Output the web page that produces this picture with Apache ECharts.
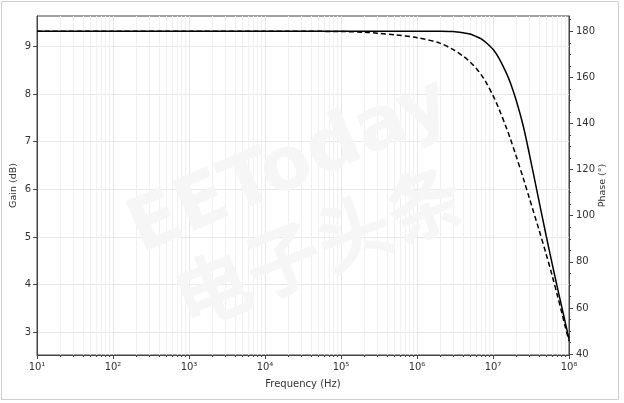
<!DOCTYPE html>
<html><head><meta charset="utf-8">
<script src="https://cdn.jsdelivr.net/npm/echarts@6/dist/echarts.min.js"></script>
<style>html,body{margin:0;padding:0;background:#fff}#c{width:624px;height:403px}</style>
</head><body><div id="c"></div>
<script>
// Data
const freqHz   = [10, 100, 1e3, 1e4, 1e5, 2e5, 3e5, 5e5, 1e6, 2e6, 3e6, 4e6, 5e6, 6e6, 7e6, 8e6, 1e7, 1.2e7, 1.5e7, 1.7e7, 2e7, 2.5e7, 3e7, 4e7, 5e7, 6e7, 7e7, 8e7, 9e7, 1e8];
const gainDb   = [9.32, 9.32, 9.32, 9.32, 9.32, 9.32, 9.32, 9.32, 9.32, 9.32, 9.315, 9.29, 9.26, 9.21, 9.16, 9.09, 8.94, 8.75, 8.44, 8.23, 7.89, 7.33, 6.75, 5.78, 5.03, 4.44, 3.95, 3.54, 3.18, 2.86];
const phaseDeg = [180, 180, 180, 180, 179.87, 179.57, 179.14, 178.49, 177.2, 174.83, 171.99, 169.32, 166.65, 163.93, 161.09, 158.16, 152.09, 146.27, 138.13, 133.17, 126.2, 116.29, 107.76, 94.23, 83.38, 74.07, 65.71, 58.22, 51.41, 45.6];

// Tick labels / positions
const decadeTicks = [1e1, 1e2, 1e3, 1e4, 1e5, 1e6, 1e7, 1e8];
const gainTicks = [3, 4, 5, 6, 7, 8, 9];
const phaseTicks = [40, 60, 80, 100, 120, 140, 160, 180];
const phaseMinorTicks = [45, 50, 55, 65, 70, 75, 85, 90, 95, 105, 110, 115, 125, 130, 135, 145, 150, 155, 165, 170, 175, 185];
const minorDecadeTicks = [];
for (let e = 1; e < 8; e++) for (let k = 2; k <= 9; k++) minorDecadeTicks.push(k * Math.pow(10, e));

const sup = {'0':'⁰','1':'¹','2':'²','3':'³','4':'⁴','5':'⁵','6':'⁶','7':'⁷','8':'⁸','9':'⁹'};
const FONT = 'DejaVu Sans';
const AX = '#444';
const TXT = '#333';
const GRID = '#e8e8e8';

const chart = echarts.init(document.getElementById('c'), null, {renderer: 'canvas'});
chart.setOption({
  animation: false,
  backgroundColor: '#fff',
  grid: {left: 37, right: 55, top: 16, bottom: 48, show: true, borderColor: AX, borderWidth: 1,
    backgroundColor: 'transparent', containLabel: false, outerBoundsMode: 'none'},
  xAxis: [
    {
      type: 'log', logBase: 10, min: 10, max: 1e8, position: 'bottom',
      axisLine: {show: true, lineStyle: {color: AX, width: 1}},
      axisTick: {show: true, inside: false, length: 4, customValues: decadeTicks, lineStyle: {color: AX}},
      axisLabel: {customValues: decadeTicks, color: TXT, fontSize: 10, fontFamily: FONT, margin: 7,
        formatter: v => '10' + String(Math.round(Math.log10(v))).split('').map(c => sup[c]).join('')},
      splitLine: {show: true, lineStyle: {color: GRID, width: 1}},
      name: 'Frequency (Hz)', nameLocation: 'middle', nameGap: 24,
      nameTextStyle: {color: TXT, fontSize: 10, fontFamily: FONT}
    },
    {
      type: 'log', logBase: 10, min: 10, max: 1e8, position: 'bottom',
      axisLine: {show: false},
      axisTick: {show: true, inside: false, length: 2, customValues: minorDecadeTicks, lineStyle: {color: AX}},
      axisLabel: {show: false},
      splitLine: {show: true, lineStyle: {color: '#f0f0f0', width: 1}}
    }
  ],
  yAxis: [
    {
      type: 'value', position: 'left', min: 2.52, max: 9.64,
      axisLine: {show: true, lineStyle: {color: AX}},
      axisTick: {show: true, length: 4, customValues: gainTicks, lineStyle: {color: AX}},
      axisLabel: {customValues: gainTicks, color: TXT, fontSize: 10, fontFamily: FONT, margin: 6},
      splitLine: {show: true, lineStyle: {color: GRID}},
      name: 'Gain (dB)', nameLocation: 'middle', nameGap: 18, nameRotate: 90, nameMoveOverlap: false,
      nameTextStyle: {color: TXT, fontSize: 9.5, fontFamily: FONT}
    },
    {
      type: 'value', position: 'right', min: 39.6, max: 186.6,
      axisLine: {show: true, lineStyle: {color: AX}},
      axisTick: {show: true, length: 4, customValues: phaseTicks, lineStyle: {color: AX}},
      axisLabel: {customValues: phaseTicks, color: TXT, fontSize: 10, fontFamily: FONT, margin: 7},
      splitLine: {show: false},
      name: 'Phase (°)', nameLocation: 'middle', nameGap: 29, nameRotate: 90, nameMoveOverlap: false,
      nameTextStyle: {color: TXT, fontSize: 9.5, fontFamily: FONT}
    },
    {
      type: 'value', position: 'right', min: 39.6, max: 186.6,
      axisLine: {show: false},
      axisTick: {show: true, length: 2, customValues: phaseMinorTicks, lineStyle: {color: AX}},
      axisLabel: {show: false},
      splitLine: {show: false}
    }
  ],
  graphic: [
    {type: 'rect', silent: true, z: 0, shape: {x: 1.5, y: 1.5, width: 617, height: 398},
      style: {fill: 'none', stroke: '#cfcfcf', lineWidth: 1}},
    {type: 'text', silent: true, z: 1, x: 290, y: 168, rotation: 0.41,
      style: {text: 'EEToday', font: 'bold 74px "DejaVu Sans"', fill: 'rgba(246,246,246,0.95)',
        align: 'center', verticalAlign: 'middle',
        shadowBlur: 5, shadowColor: 'rgba(0,0,0,0.4)', shadowOffsetX: 3, shadowOffsetY: 3}},
    {type: 'text', silent: true, z: 1, x: 318, y: 246, rotation: 0.38,
      style: {text: '电子头条', font: 'bold 76px "Noto Sans CJK SC"', fill: 'rgba(246,246,246,0.95)',
        align: 'center', verticalAlign: 'middle',
        shadowBlur: 5, shadowColor: 'rgba(0,0,0,0.4)', shadowOffsetX: 3, shadowOffsetY: 3}}
  ],
  series: [
    {
      name: 'Gain', type: 'line', xAxisIndex: 0, yAxisIndex: 0, z: 5,
      data: freqHz.map((f, i) => [f, gainDb[i]]),
      showSymbol: false, smooth: 0.3,
      lineStyle: {color: '#000', width: 1.5, type: 'solid'}
    },
    {
      name: 'Phase', type: 'line', xAxisIndex: 0, yAxisIndex: 1, z: 5,
      data: freqHz.map((f, i) => [f, phaseDeg[i]]),
      showSymbol: false, smooth: 0.3,
      lineStyle: {color: '#000', width: 1.5, type: [5, 3]}
    }
  ]
});
</script>
</body></html>
